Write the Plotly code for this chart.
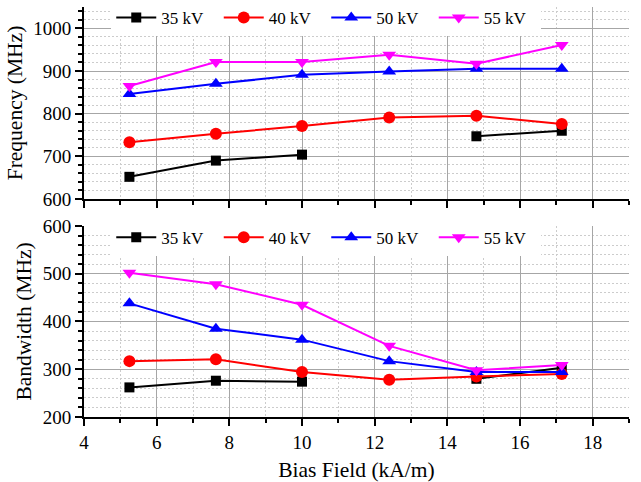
import plotly.graph_objects as go
from plotly.subplots import make_subplots

bias_field = [5.25, 7.63, 10.0, 12.4, 14.8, 17.15]
series_names = ["35 kV", "40 kV", "50 kV", "55 kV"]

freq_35 = [652, 690, 704, None, 747, 760]
freq_40 = [733, 753, 771, 791, 795, 776]
freq_50 = [846, 870, 891, 899, 905, 905]
freq_55 = [865, 921, 921, 938, 917, 961]

bw_35 = [262, 276, 274, None, 280, 303]
bw_40 = [317, 321, 294, 278, 285, 290]
bw_50 = [438, 385, 362, 317, 294, 294]
bw_55 = [502, 478, 435, 349, 298, 309]

colors = ["#000000", "#ff0000", "#0000ff", "#ff00ff"]
symbols = ["square", "circle", "triangle-up", "triangle-down"]
sizes = [10, 12, 12, 12]

FONT = "Liberation Serif, Times New Roman, serif"

fig = make_subplots(rows=2, cols=1, shared_xaxes=False, vertical_spacing=0.0)

freq_sets = [freq_35, freq_40, freq_50, freq_55]
bw_sets = [bw_35, bw_40, bw_50, bw_55]

for i, name in enumerate(series_names):
    fig.add_trace(go.Scatter(
        x=bias_field, y=freq_sets[i], name=name, mode="lines+markers",
        line=dict(color=colors[i], width=2),
        marker=dict(symbol=symbols[i], size=sizes[i], color=colors[i]),
        connectgaps=False, legend="legend"), row=1, col=1)

for i, name in enumerate(series_names):
    fig.add_trace(go.Scatter(
        x=bias_field, y=bw_sets[i], name=name, mode="lines+markers",
        line=dict(color=colors[i], width=2),
        marker=dict(symbol=symbols[i], size=sizes[i], color=colors[i]),
        connectgaps=False, legend="legend2"), row=2, col=1)

top_dom = [0.5317, 1.0]
bot_dom = [0.0, 0.4659]

xcommon = dict(
    range=[4, 19], dtick=2, tick0=4, automargin=False,
    showline=True, linecolor="black", linewidth=2,
    ticks="outside", ticklen=7, tickwidth=2, tickcolor="black",
    showgrid=True, gridcolor="#a6a6a6", gridwidth=1,
    zeroline=False,
    minor=dict(dtick=1, tick0=4, ticks="outside", ticklen=4, tickwidth=2, tickcolor="black",
               showgrid=True, gridcolor="#cccccc", gridwidth=1, griddash="2px,2px"),
    tickfont=dict(family=FONT, size=19, color="black"),
)
ycommon = dict(
    dtick=100, automargin=False,
    showline=True, linecolor="black", linewidth=2,
    ticks="outside", ticklen=7, tickwidth=2, tickcolor="black",
    showgrid=True, gridcolor="#a6a6a6", gridwidth=1,
    zeroline=False,
    minor=dict(dtick=20, ticks="outside", ticklen=4, tickwidth=2, tickcolor="black",
               showgrid=True, gridcolor="#cccccc", gridwidth=1, griddash="2px,2px"),
    tickfont=dict(family=FONT, size=19, color="black"),
    title_font=dict(family=FONT, size=21.5, color="black"),
    title_standoff=5,
)

fig.update_xaxes(**xcommon, showticklabels=False, row=1, col=1)
fig.update_xaxes(**xcommon, title_text="Bias Field (kA/m)",
                 title_font=dict(family=FONT, size=21.5, color="black"),
                 title_standoff=10, row=2, col=1)
fig.update_yaxes(**ycommon, range=[600, 1050], tick0=600, title_text="Frequency (MHz)", row=1, col=1)
fig.update_yaxes(**ycommon, range=[200, 600], tick0=200, title_text="Bandwidth (MHz)", row=2, col=1)
fig.update_layout(yaxis=dict(domain=top_dom), yaxis2=dict(domain=bot_dom))

legend_common = dict(
    orientation="h", bgcolor="white", borderwidth=0,
    font=dict(family=FONT, size=17, color="black"),
    xanchor="left", yanchor="top", itemwidth=40,
    entrywidth=52.5, entrywidthmode="pixels",
    tracegroupgap=0,
)
fig.update_layout(
    legend=dict(**legend_common, x=0.050, y=1.017),
    legend2=dict(**legend_common, x=0.050, y=0.4815),
    width=641, height=482,
    margin=dict(l=84, r=12, t=7, b=65, autoexpand=False),
    paper_bgcolor="white", plot_bgcolor="white",
    font=dict(family=FONT, color="black"),
)

fig.write_html("out.html")
